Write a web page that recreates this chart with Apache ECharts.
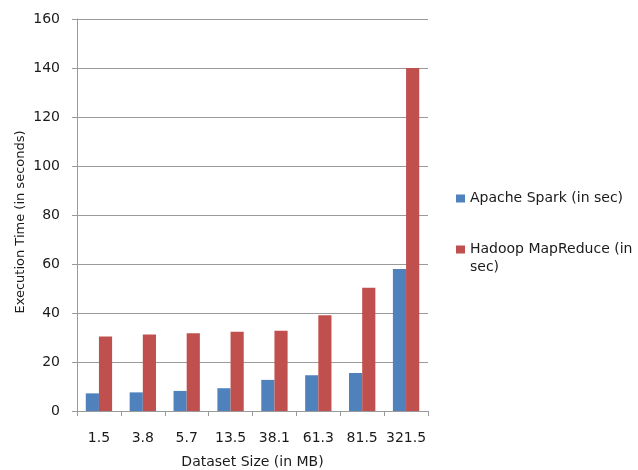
<!DOCTYPE html>
<html><head><meta charset="utf-8">
<script src="https://cdn.jsdelivr.net/npm/echarts@6/dist/echarts.min.js"></script>
<style>html,body{margin:0;padding:0;background:#fff}#c{width:638px;height:470px}</style>
</head><body><div id="c"></div>
<script>
const categories = ['1.5','3.8','5.7','13.5','38.1','61.3','81.5','321.5'];
const sparkValues = [7.2, 7.6, 8.2, 9.3, 12.7, 14.6, 15.5, 58];
const hadoopValues = [30.4, 31.2, 31.7, 32.3, 32.8, 39.1, 50.3, 140];
const yTicks = [0, 20, 40, 60, 80, 100, 120, 140, 160];
const seriesNames = ['Apache Spark (in sec)', 'Hadoop MapReduce (in sec)'];
const legendLines = {'Hadoop MapReduce (in sec)': ['Hadoop MapReduce (in', 'sec)']};

const chart = echarts.init(document.getElementById('c'));
const font = 'DejaVu Sans';
const txt = '#1a1a1a';
chart.setOption({
  animation: false,
  textStyle: {fontFamily: font},
  grid: {left: 77, right: 210, top: 19, bottom: 59, outerBoundsMode: 'none', containLabel: false},
  legend: {
    orient: 'vertical', left: 456, top: 190, padding: 0, itemWidth: 9, itemHeight: 8, itemGap: 34,
    icon: 'rect',
    textStyle: {fontFamily: font, fontSize: 14, color: txt, lineHeight: 17},
    formatter: n => legendLines[n] ? legendLines[n][0] : n,
    data: seriesNames
  },
  graphic: [{
    type: 'text', left: 470, top: 260,
    style: {text: legendLines[seriesNames[1]][1], font: '14px "DejaVu Sans"', fill: txt}
  }],
  xAxis: {
    type: 'category', data: categories,
    name: 'Dataset Size (in MB)', nameLocation: 'middle', nameGap: 44, nameMoveOverlap: false,
    nameTextStyle: {fontFamily: font, fontSize: 14, color: txt},
    axisLine: {lineStyle: {color: '#9a9a9a'}},
    axisTick: {show: true, length: 5, lineStyle: {color: '#9a9a9a'}},
    axisLabel: {fontFamily: font, fontSize: 14, color: txt, margin: 20, interval: 0}
  },
  yAxis: {
    type: 'value', min: yTicks[0], max: yTicks[yTicks.length-1], interval: 20,
    name: 'Execution Time (in seconds)', nameLocation: 'middle', nameGap: 50, nameMoveOverlap: false,
    nameTextStyle: {fontFamily: font, fontSize: 13, color: txt, padding: [0, 14, 0, 0]},
    axisLine: {show: true, lineStyle: {color: '#9a9a9a'}},
    axisTick: {show: true, length: 5, lineStyle: {color: '#9a9a9a'}},
    axisLabel: {fontFamily: font, fontSize: 14, color: txt, margin: 17},
    splitLine: {lineStyle: {color: '#9a9a9a'}}
  },
  series: [
    {name: seriesNames[0], type: 'bar', data: sparkValues, barGap: '0%', barCategoryGap: '40%', itemStyle: {color: '#4F81BD'}},
    {name: seriesNames[1], type: 'bar', data: hadoopValues, barGap: '0%', barCategoryGap: '40%', itemStyle: {color: '#C0504D'}}
  ]
});
</script></body></html>
